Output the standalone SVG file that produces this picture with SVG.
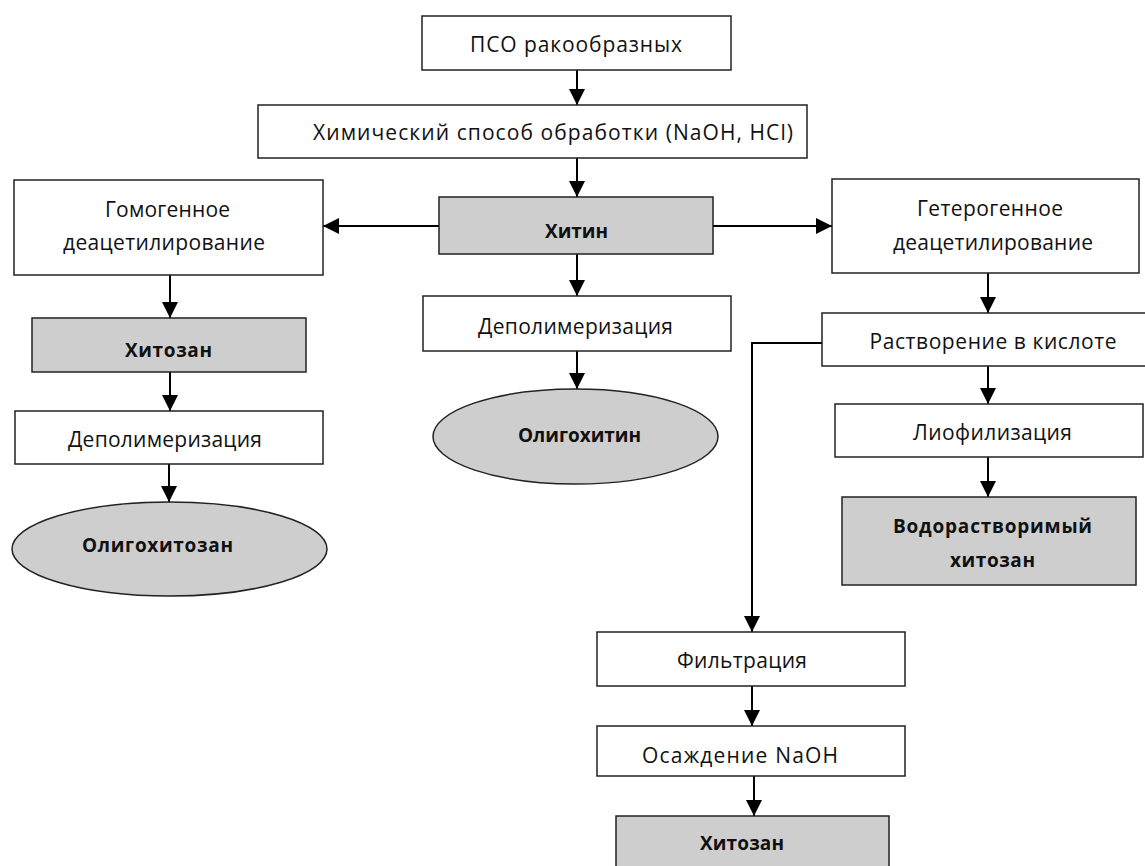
<svg xmlns="http://www.w3.org/2000/svg" width="1145" height="866" viewBox="0 0 1145 866">
<style>
.box{fill:#ffffff;stroke:#222222;stroke-width:1.5}
.dark{fill:#cecece;stroke:#222222;stroke-width:1.5}
.t{font-family:"Open Sans","Noto Sans",sans-serif;font-size:21px;fill:#111111;text-anchor:middle}
.b{font-family:"Open Sans","Noto Sans",sans-serif;font-size:19px;font-weight:bold;fill:#111111;text-anchor:middle}
.c{fill:none;stroke:#000000;stroke-width:2}
.a{marker-end:url(#arr)}
</style>
<defs>
<marker id="arr" markerUnits="userSpaceOnUse" markerWidth="17" markerHeight="16" refX="16" refY="8" orient="auto">
<path d="M0,0 L16,8 L0,16 z" fill="#000000"/>
</marker>
</defs>
<rect width="1145" height="866" fill="#ffffff"/>
<g id="connectors">
<line class="c a" x1="577" y1="70" x2="577" y2="105"/>
<line class="c a" x1="577" y1="158" x2="577" y2="197"/>
<line class="c a" x1="439" y1="226" x2="323" y2="226"/>
<line class="c a" x1="713" y1="226" x2="832" y2="226"/>
<line class="c a" x1="577" y1="254" x2="577" y2="296"/>
<line class="c a" x1="577" y1="351" x2="577" y2="389"/>
<line class="c a" x1="170" y1="275" x2="170" y2="318"/>
<line class="c a" x1="170" y1="372" x2="170" y2="411"/>
<line class="c a" x1="169" y1="464" x2="169" y2="502"/>
<line class="c a" x1="988" y1="273" x2="988" y2="313"/>
<line class="c a" x1="988" y1="366" x2="988" y2="404"/>
<line class="c a" x1="988" y1="457" x2="988" y2="497"/>
<polyline class="c a" points="822,343 752,343 752,632"/>
<line class="c a" x1="752" y1="686" x2="752" y2="726"/>
<line class="c a" x1="754" y1="776" x2="754" y2="816"/>
</g>
<g id="n_pso">
<rect class="box" x="422" y="16" width="309" height="54"/>
<text class="t" x="576" y="52" textLength="212" lengthAdjust="spacing">ПСО ракообразных</text>
</g>
<g id="n_chem">
<rect class="box" x="258" y="105" width="549" height="53"/>
<text class="t" x="553" y="140" textLength="480" lengthAdjust="spacing">Химический способ обработки (NaOH, HCl)</text>
</g>
<g id="n_chitin">
<rect class="dark" x="439" y="197" width="274" height="57"/>
<text class="b" x="576.5" y="238" textLength="63" lengthAdjust="spacing">Хитин</text>
</g>
<g id="n_homo">
<rect class="box" x="14" y="180" width="309" height="95"/>
<text class="t" x="167.5" y="217" textLength="125" lengthAdjust="spacing">Гомогенное</text>
<text class="t" x="164" y="250" textLength="202" lengthAdjust="spacing">деацетилирование</text>
</g>
<g id="n_hetero">
<rect class="box" x="832" y="179" width="307" height="94"/>
<text class="t" x="990" y="216" textLength="146" lengthAdjust="spacing">Гетерогенное</text>
<text class="t" x="993" y="250" textLength="200" lengthAdjust="spacing">деацетилирование</text>
</g>
<g id="n_chitosan_left">
<rect class="dark" x="32" y="318" width="274" height="54"/>
<text class="b" x="168.5" y="357" textLength="87" lengthAdjust="spacing">Хитозан</text>
</g>
<g id="n_depol_left">
<rect class="box" x="15" y="411" width="308" height="53"/>
<text class="t" x="165" y="447" textLength="194" lengthAdjust="spacing">Деполимеризация</text>
</g>
<g id="n_oligochitosan">
<ellipse class="dark" cx="169.5" cy="549" rx="157.5" ry="47"/>
<text class="b" x="157.5" y="552" textLength="151" lengthAdjust="spacing">Олигохитозан</text>
</g>
<g id="n_depol_center">
<rect class="box" x="423" y="296" width="308" height="55"/>
<text class="t" x="575.5" y="334" textLength="195" lengthAdjust="spacing">Деполимеризация</text>
</g>
<g id="n_oligochitin">
<ellipse class="dark" cx="575.5" cy="436.5" rx="142.5" ry="47.5"/>
<text class="b" x="579.5" y="442" textLength="123" lengthAdjust="spacing">Олигохитин</text>
</g>
<g id="n_dissolve">
<rect class="box" x="822" y="313" width="330" height="53"/>
<text class="t" x="993" y="349" textLength="247" lengthAdjust="spacing">Растворение в кислоте</text>
</g>
<g id="n_lyo">
<rect class="box" x="835" y="404" width="308" height="53"/>
<text class="t" x="992.5" y="440" textLength="159" lengthAdjust="spacing">Лиофилизация</text>
</g>
<g id="n_watersol">
<rect class="dark" x="842" y="497" width="294" height="88"/>
<text class="b" x="992.5" y="533" textLength="199" lengthAdjust="spacing">Водорастворимый</text>
<text class="b" x="992.5" y="567" textLength="85" lengthAdjust="spacing">хитозан</text>
</g>
<g id="n_filter">
<rect class="box" x="597" y="632" width="308" height="54"/>
<text class="t" x="742" y="668" textLength="130" lengthAdjust="spacing">Фильтрация</text>
</g>
<g id="n_precip">
<rect class="box" x="597" y="726" width="308" height="50"/>
<text class="t" x="740" y="763" textLength="196" lengthAdjust="spacing">Осаждение NaOH</text>
</g>
<g id="n_chitosan_bottom">
<rect class="dark" x="616" y="816" width="273" height="60"/>
<text class="b" x="742" y="850" textLength="84" lengthAdjust="spacing">Хитозан</text>
</g>
</svg>
